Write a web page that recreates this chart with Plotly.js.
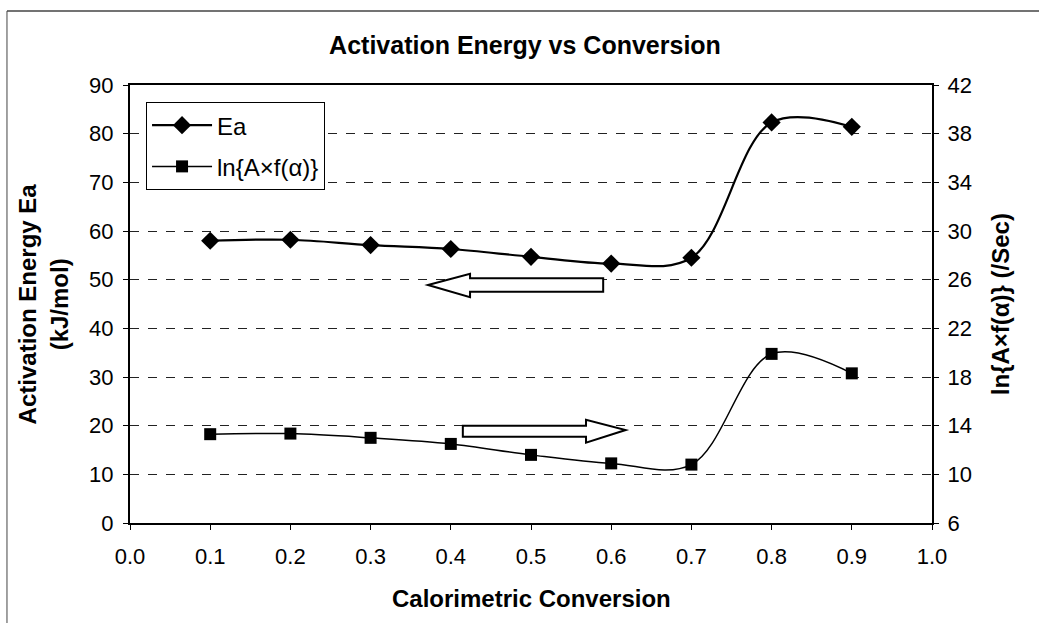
<!DOCTYPE html>
<html>
<head>
<meta charset="utf-8">
<script src="https://cdn.plot.ly/plotly-3.0.1.min.js"></script>
<style>html,body{margin:0;padding:0;background:#fff;}#chart{width:1039px;height:623px;}</style>
</head>
<body>
<div id="chart"></div>
<script>
const conversion = [0.1, 0.2, 0.3, 0.4, 0.5, 0.6, 0.7, 0.8, 0.9];
const activationEnergy = [58.0, 58.2, 57.1, 56.3, 54.7, 53.3, 54.5, 82.3, 81.4];
const lnAf = [13.3, 13.35, 13.0, 12.5, 11.6, 10.9, 10.8, 19.9, 18.3];
const xTicks = [0, 0.1, 0.2, 0.3, 0.4, 0.5, 0.6, 0.7, 0.8, 0.9, 1.0];
const leftTicks = [0, 10, 20, 30, 40, 50, 60, 70, 80, 90];
const rightTicks = [6, 10, 14, 18, 22, 26, 30, 34, 38, 42];

const FONT = 'Arial, "Liberation Sans", sans-serif';
const TICKFONT = {family: FONT, size: 22, color: '#000'};
const TITLEFONT = {family: FONT, size: 24, color: '#000'};

const traces = [
  {
    x: conversion, y: activationEnergy, name: 'Ea', type: 'scatter', mode: 'lines+markers',
    line: {color: '#000', width: 2.2, shape: 'spline', smoothing: 1},
    marker: {symbol: 'diamond', size: 14, color: '#000'},
    legendgroup: 'a', yaxis: 'y'
  },
  {
    x: conversion, y: lnAf, name: 'ln{A\u00d7f(\u03b1)}', type: 'scatter', mode: 'lines+markers',
    line: {color: '#000', width: 1.5, shape: 'spline', smoothing: 1},
    marker: {symbol: 'square', size: 12, color: '#000'},
    legendgroup: 'b', yaxis: 'y2'
  }
];

const layout = {
  width: 1039, height: 623,
  margin: {l: 130, r: 107, t: 85, b: 100},
  paper_bgcolor: '#fff', plot_bgcolor: '#fff',
  font: {family: FONT, color: '#000', size: 20},
  showlegend: true,
  title: {text: '<b>Activation Energy vs Conversion</b>', font: {family: FONT, size: 25, color: '#000'},
          x: 0.4925, xref: 'paper', xanchor: 'center', y: 0.928, yref: 'container', yanchor: 'middle'},
  legend: {x: 0.02, y: 0.961, xanchor: 'left', yanchor: 'top', bgcolor: '#fff',
           bordercolor: '#000', borderwidth: 1, font: {family: FONT, size: 24, color: '#000'},
           traceorder: 'grouped', tracegroupgap: 7, itemwidth: 60},
  xaxis: {range: [0, 1], tickvals: xTicks, tickformat: '.1f', showgrid: false, zeroline: false,
          showline: true, linecolor: '#000', linewidth: 2, mirror: true,
          ticks: 'outside', ticklen: 5, tickcolor: '#000', tickfont: TICKFONT, ticklabelstandoff: 8},
  yaxis: {range: [0, 90], tickvals: leftTicks, showgrid: true, gridcolor: '#222', griddash: 'dash', gridwidth: 1,
          zeroline: false, showline: true, linecolor: '#000', linewidth: 2, mirror: false,
          ticks: 'outside', ticklen: 5, tickcolor: '#000', tickfont: TICKFONT, ticklabelstandoff: 5},
  yaxis2: {range: [6, 42], tickvals: rightTicks, overlaying: 'y', side: 'right', showgrid: false,
           zeroline: false, showline: true, linecolor: '#000', linewidth: 2,
           ticks: 'outside', ticklen: 5, tickcolor: '#000', tickfont: TICKFONT, ticklabelstandoff: 4},
  annotations: [
    {text: '<b>Calorimetric Conversion</b>', xref: 'paper', yref: 'paper', x: 0.5, y: -0.1735,
     xanchor: 'center', yanchor: 'middle', showarrow: false, font: TITLEFONT},
    {text: '<b>Activation Energy Ea</b><br><b>(kJ/mol)</b>', xref: 'paper', yref: 'paper', x: -0.108, y: 0.5,
     xanchor: 'center', yanchor: 'middle', showarrow: false, textangle: -90, font: TITLEFONT},
    {text: '<b>ln{A\u00d7f(\u03b1)} (/Sec)</b>', xref: 'paper', yref: 'paper', x: 1.085, y: 0.5,
     xanchor: 'center', yanchor: 'middle', showarrow: false, textangle: -90, font: TITLEFONT}
  ],
  shapes: [
    {type: 'path', xref: 'x', yref: 'y', layer: 'above',
     path: 'M0.3716,48.9 L0.424,51.2 L0.424,50.3 L0.590,50.3 L0.590,47.5 L0.424,47.5 L0.424,46.4 Z',
     fillcolor: '#fff', line: {color: '#000', width: 2}},
    {type: 'path', xref: 'x', yref: 'y', layer: 'above',
     path: 'M0.415,20.0 L0.5686,20.0 L0.5686,21.2 L0.618,19.1 L0.5686,16.5 L0.5686,17.7 L0.415,17.7 Z',
     fillcolor: '#fff', line: {color: '#000', width: 2}},
    {type: 'line', xref: 'paper', yref: 'paper', x0: -0.1534, x1: -0.1534, y0: -0.25, y1: 1.169,
     line: {color: '#444', width: 1}},
    {type: 'line', xref: 'paper', yref: 'paper', x0: -0.1534, x1: 1.15, y0: 1.169, y1: 1.169,
     line: {color: '#444', width: 1.5}}
  ]
};

Plotly.newPlot('chart', traces, layout, {displayModeBar: false, staticPlot: true});
</script>
</body>
</html>
